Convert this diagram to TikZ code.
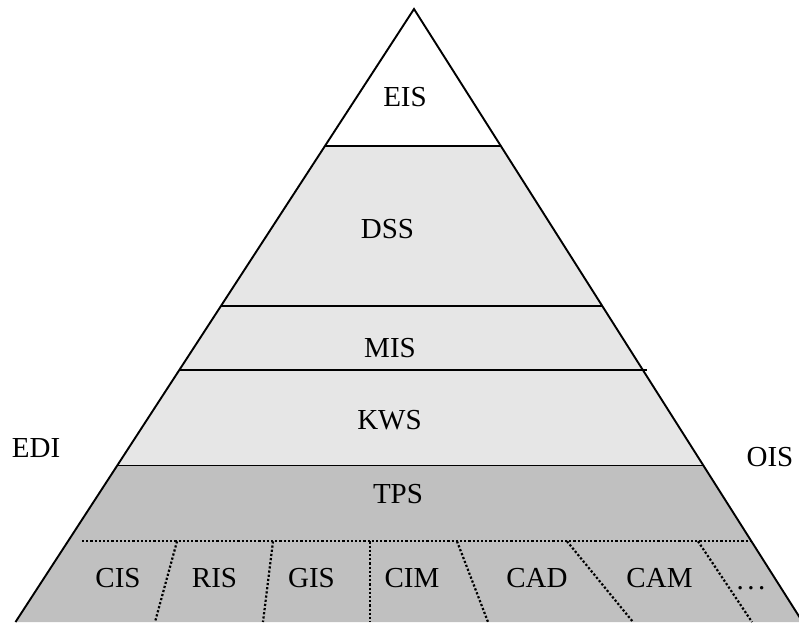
\documentclass[tikz,border=0pt]{standalone}
\usepackage{fontspec}
\setmainfont{Liberation Serif}
\definecolor{upperband}{RGB}{230,230,230}
\definecolor{baseband}{RGB}{192,192,192}
\begin{document}
\begin{tikzpicture}[x=1pt,y=-1pt,
  edge/.style={line width=1.9pt,line join=miter},
  divider/.style={line width=2.2pt,dash pattern=on 2.2pt off 2pt},
  tier/.style={inner sep=0pt,anchor=base,font=\fontsize{29}{34}\selectfont}]
\useasboundingbox (0,0) rectangle (799,622);
\clip (0,0) rectangle (799,622);

% corner and band points of the pyramid
\coordinate (apex) at (414,9);
\coordinate (l1) at (325.1,145.7); \coordinate (r1) at (500.7,145.7);
\coordinate (l2) at (221.1,305.7); \coordinate (r2) at (602.1,305.7);
\coordinate (l3) at (179.3,370);   \coordinate (r3) at (642.9,370);
\coordinate (l4) at (117.3,465.5); \coordinate (r4) at (703.4,465.5);
\coordinate (bl) at (15.5,622);    \coordinate (br) at (802.6,622);

% band fills
\fill[white] (apex) -- (l1) -- (r1) -- cycle;
\fill[upperband] (l1) -- (r1) -- (r4) -- (l4) -- cycle;
\fill[baseband] (l4) -- (r4) -- (br) -- (bl) -- cycle;

% outline and band borders
\draw[edge] (bl) -- (apex) -- (br);
\draw[edge] (l1) -- (r1);
\draw[edge] (l2) -- (r2);
\draw[edge] (l3) -- ([xshift=4pt]r3);
\draw[edge] (l4) -- (r4);

% dotted split of the lowest tier
\coordinate (d0) at (82,541.3); \coordinate (d1) at (752,541.3);
\draw[divider] (d0) -- (d1);
\foreach \t/\b [count=\i] in {177/155,273/263,370/370,457/488,567/633,698/752}{
  \coordinate (t\i) at (\t,541.3);
  \coordinate (b\i) at (\b,622);
  \draw[divider] (t\i) -- (b\i);
}

% tier labels
\node[tier] (eis) at (405,106) {EIS};
\node[tier] (dss) at (387.5,238) {DSS};
\node[tier] (mis) at (390,357) {MIS};
\node[tier] (kws) at (389.5,429) {KWS};
\node[tier] (tps) at (398,503) {TPS};
\node[tier] (edi) at (36,457) {EDI};
\node[tier] (ois) at (770,466.5) {OIS};

% lowest tier labels
\node[tier] (cis) at (118,587) {CIS};
\node[tier] (ris) at (214.5,587) {RIS};
\node[tier] (gis) at (311.5,587) {GIS};
\node[tier] (cim) at (412,587) {CIM};
\node[tier] (cad) at (537,587) {CAD};
\node[tier] (cam) at (659.5,587) {CAM};
\node[tier] (more) at (751,589) {.\kern3.5pt.\kern3.5pt.};
\end{tikzpicture}
\end{document}
